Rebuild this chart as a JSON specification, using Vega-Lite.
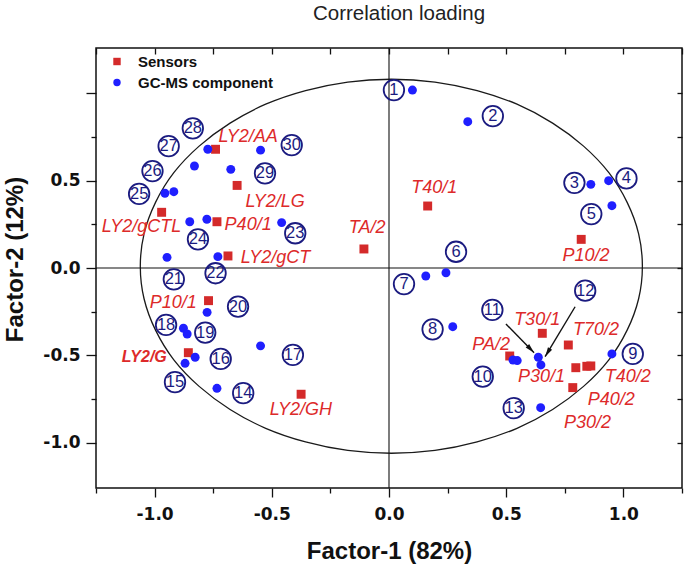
{
  "$schema": "https://vega.github.io/schema/vega-lite/v6.json",
  "width": 586,
  "height": 440,
  "autosize": {"type": "none"},
  "padding": {"left": 96, "top": 48, "right": 6, "bottom": 78},
  "background": "white",
  "title": {"text": "Correlation loading", "font": "Liberation Sans", "fontSize": 20.5, "fontWeight": "normal", "color": "#222", "anchor": "middle", "frame": "group", "baseline": "alphabetic", "offset": 7, "dx": 10},
  "config": {
    "view": {"stroke": "#111", "strokeWidth": 1.5},
    "axis": {"domain": false, "grid": false, "tickColor": "#111", "tickWidth": 1.3, "labelFont": "DejaVu Sans", "labelFontWeight": "bold", "labelFontSize": 17, "labelColor": "#111", "titleFont": "Liberation Sans", "titleFontSize": 24, "titleFontWeight": "bold", "titleColor": "#111"}
  },
  "datasets": {
    "pts": [
      {"type": "Sensors", "name": "LY2/AA", "x": -0.74, "y": 0.68, "lx": -0.601, "ly": 0.752},
      {"type": "Sensors", "name": "LY2/LG", "x": -0.648, "y": 0.473, "lx": -0.486, "ly": 0.38},
      {"type": "Sensors", "name": "LY2/gCTL", "x": -0.97, "y": 0.319, "lx": -1.056, "ly": 0.237},
      {"type": "Sensors", "name": "P40/1", "x": -0.734, "y": 0.265, "lx": -0.601, "ly": 0.246},
      {"type": "Sensors", "name": "LY2/gCT", "x": -0.687, "y": 0.069, "lx": -0.484, "ly": 0.055},
      {"type": "Sensors", "name": "TA/2", "x": -0.107, "y": 0.109, "lx": -0.093, "ly": 0.227},
      {"type": "Sensors", "name": "T40/1", "x": 0.165, "y": 0.355, "lx": 0.193, "ly": 0.456},
      {"type": "Sensors", "name": "P10/2", "x": 0.82, "y": 0.164, "lx": 0.84, "ly": 0.069},
      {"type": "Sensors", "name": "P10/1", "x": -0.77, "y": -0.187, "lx": -0.92, "ly": -0.202},
      {"type": "Sensors", "name": "LY2/G", "x": -0.856, "y": -0.485, "lx": -1.044, "ly": -0.508},
      {"type": "Sensors", "name": "LY2/GH", "x": -0.375, "y": -0.723, "lx": -0.376, "ly": -0.813},
      {"type": "Sensors", "name": "T30/1", "x": 0.654, "y": -0.374, "lx": 0.632, "ly": -0.298},
      {"type": "Sensors", "name": "T70/2", "x": 0.765, "y": -0.441, "lx": 0.883, "ly": -0.355},
      {"type": "Sensors", "name": "PA/2", "x": 0.515, "y": -0.504, "lx": 0.436, "ly": -0.441},
      {"type": "Sensors", "name": "P30/1", "x": 0.797, "y": -0.571, "lx": 0.651, "ly": -0.622},
      {"type": "Sensors", "name": "T40/2", "x": 0.861, "y": -0.561, "lx": 1.019, "ly": -0.626},
      {"type": "Sensors", "name": "P40/2", "x": 0.844, "y": -0.563, "lx": 0.948, "ly": -0.756},
      {"type": "Sensors", "name": "P30/2", "x": 0.784, "y": -0.685, "lx": 0.847, "ly": -0.889},
      {"type": "GC-MS component", "name": "1", "x": 0.1, "y": 1.019, "lx": 0.021, "ly": 1.019},
      {"type": "GC-MS component", "name": "2", "x": 0.336, "y": 0.838, "lx": 0.443, "ly": 0.87},
      {"type": "GC-MS component", "name": "3", "x": 0.861, "y": 0.479, "lx": 0.791, "ly": 0.488},
      {"type": "GC-MS component", "name": "4", "x": 0.937, "y": 0.5, "lx": 1.013, "ly": 0.513},
      {"type": "GC-MS component", "name": "5", "x": 0.951, "y": 0.357, "lx": 0.863, "ly": 0.309},
      {"type": "GC-MS component", "name": "6", "x": 0.243, "y": -0.027, "lx": 0.286, "ly": 0.093},
      {"type": "GC-MS component", "name": "7", "x": 0.157, "y": -0.046, "lx": 0.064, "ly": -0.092},
      {"type": "GC-MS component", "name": "8", "x": 0.272, "y": -0.336, "lx": 0.186, "ly": -0.351},
      {"type": "GC-MS component", "name": "9", "x": 0.951, "y": -0.492, "lx": 1.04, "ly": -0.492},
      {"type": "GC-MS component", "name": "10", "x": 0.529, "y": -0.527, "lx": 0.4, "ly": -0.622},
      {"type": "GC-MS component", "x": 0.547, "y": -0.53},
      {"type": "GC-MS component", "name": "11", "x": 0.637, "y": -0.511, "lx": 0.441, "ly": -0.24},
      {"type": "GC-MS component", "name": "12", "x": 0.648, "y": -0.555, "lx": 0.837, "ly": -0.13},
      {"type": "GC-MS component", "name": "13", "x": 0.647, "y": -0.8, "lx": 0.532, "ly": -0.803},
      {"type": "GC-MS component", "name": "14", "x": -0.734, "y": -0.689, "lx": -0.622, "ly": -0.717},
      {"type": "GC-MS component", "name": "15", "x": -0.87, "y": -0.546, "lx": -0.913, "ly": -0.654},
      {"type": "GC-MS component", "name": "16", "x": -0.827, "y": -0.511, "lx": -0.718, "ly": -0.521},
      {"type": "GC-MS component", "name": "17", "x": -0.548, "y": -0.446, "lx": -0.41, "ly": -0.498},
      {"type": "GC-MS component", "name": "18", "x": -0.877, "y": -0.345, "lx": -0.951, "ly": -0.326},
      {"type": "GC-MS component", "name": "19", "x": -0.861, "y": -0.378, "lx": -0.784, "ly": -0.37},
      {"type": "GC-MS component", "name": "20", "x": -0.776, "y": -0.254, "lx": -0.644, "ly": -0.221},
      {"type": "GC-MS component", "name": "21", "x": -0.947, "y": 0.061, "lx": -0.918, "ly": -0.065},
      {"type": "GC-MS component", "name": "22", "x": -0.73, "y": 0.065, "lx": -0.74, "ly": -0.03},
      {"type": "GC-MS component", "name": "23", "x": -0.458, "y": 0.26, "lx": -0.4, "ly": 0.199},
      {"type": "GC-MS component", "name": "24", "x": -0.85, "y": 0.265, "lx": -0.815, "ly": 0.164},
      {"type": "GC-MS component", "x": -0.777, "y": 0.279},
      {"type": "GC-MS component", "name": "25", "x": -0.956, "y": 0.428, "lx": -1.066, "ly": 0.424},
      {"type": "GC-MS component", "name": "26", "x": -0.918, "y": 0.437, "lx": -1.009, "ly": 0.555},
      {"type": "GC-MS component", "name": "27", "x": -0.83, "y": 0.584, "lx": -0.94, "ly": 0.698},
      {"type": "GC-MS component", "name": "28", "x": -0.773, "y": 0.68, "lx": -0.837, "ly": 0.8},
      {"type": "GC-MS component", "name": "29", "x": -0.675, "y": 0.565, "lx": -0.529, "ly": 0.542},
      {"type": "GC-MS component", "name": "30", "x": -0.548, "y": 0.675, "lx": -0.415, "ly": 0.704}
    ],
    "ellipse": [
      {"i": 0, "x": 1.081, "y": 0.01}, {"i": 1, "x": 1.065, "y": 0.196}, {"i": 2, "x": 1.016, "y": 0.376},
      {"i": 3, "x": 0.938, "y": 0.546}, {"i": 4, "x": 0.83, "y": 0.698}, {"i": 5, "x": 0.698, "y": 0.83},
      {"i": 6, "x": 0.546, "y": 0.938}, {"i": 7, "x": 0.376, "y": 1.016}, {"i": 8, "x": 0.196, "y": 1.065},
      {"i": 9, "x": 0.01, "y": 1.081}, {"i": 10, "x": -0.176, "y": 1.065}, {"i": 11, "x": -0.356, "y": 1.016},
      {"i": 12, "x": -0.526, "y": 0.938}, {"i": 13, "x": -0.678, "y": 0.83}, {"i": 14, "x": -0.81, "y": 0.698},
      {"i": 15, "x": -0.918, "y": 0.546}, {"i": 16, "x": -0.996, "y": 0.376}, {"i": 17, "x": -1.045, "y": 0.196},
      {"i": 18, "x": -1.061, "y": 0.01}, {"i": 19, "x": -1.045, "y": -0.176}, {"i": 20, "x": -0.996, "y": -0.356},
      {"i": 21, "x": -0.918, "y": -0.526}, {"i": 22, "x": -0.81, "y": -0.678}, {"i": 23, "x": -0.678, "y": -0.81},
      {"i": 24, "x": -0.526, "y": -0.918}, {"i": 25, "x": -0.356, "y": -0.996}, {"i": 26, "x": -0.176, "y": -1.045},
      {"i": 27, "x": 0.01, "y": -1.061}, {"i": 28, "x": 0.196, "y": -1.045}, {"i": 29, "x": 0.376, "y": -0.996},
      {"i": 30, "x": 0.546, "y": -0.918}, {"i": 31, "x": 0.698, "y": -0.81}, {"i": 32, "x": 0.83, "y": -0.678},
      {"i": 33, "x": 0.938, "y": -0.526}, {"i": 34, "x": 1.016, "y": -0.356}, {"i": 35, "x": 1.065, "y": -0.176}
    ],
    "arrows": [
      {"id": "a11", "x": 0.499, "y": -0.321, "x2": 0.619, "y2": -0.485},
      {"id": "a12", "x": 0.794, "y": -0.222, "x2": 0.666, "y2": -0.508}
    ]
  },
  "layer": [
    {
      "data": {"name": "ellipse"},
      "mark": {"type": "line", "color": "#1a1a1a", "strokeWidth": 1.3, "interpolate": "cardinal-closed"},
      "encoding": {
        "x": {"field": "x", "type": "quantitative", "scale": {"domain": [-1.25, 1.25], "nice": false, "zero": false},
          "axis": {"orient": "bottom", "title": "Factor-1 (82%)", "values": [-1.25, -1, -0.75, -0.5, -0.25, 0, 0.25, 0.5, 0.75, 1, 1.25],
            "labelExpr": "abs(datum.value) % 0.5 == 0 ? replace(format(datum.value, '.1f'), '\u2212', '-') : ''",
            "tickSize": {"condition": {"test": "abs(datum.value) % 0.5 == 0", "value": 9}, "value": 5},
            "labelPadding": 9, "titleY": 70, "titleBaseline": "alphabetic"}},
        "y": {"field": "y", "type": "quantitative", "scale": {"domain": [-1.26, 1.26], "nice": false, "zero": false},
          "axis": {"orient": "left", "title": "Factor-2 (12%)", "values": [-1, -0.75, -0.5, -0.25, 0, 0.25, 0.5, 0.75, 1],
            "labelExpr": "abs(datum.value) % 0.5 == 0 && datum.value < 0.9 ? replace(format(datum.value, '.1f'), '\u2212', '-') : ''",
            "tickSize": {"condition": {"test": "abs(datum.value) % 0.5 == 0", "value": 10}, "value": 5},
            "labelPadding": 6, "titleX": -74, "titleY": 211, "titleBaseline": "alphabetic"}},
        "order": {"field": "i", "type": "quantitative"}
      }
    },
    {
      "data": {"values": [{"v": 0}]},
      "mark": {"type": "rule", "color": "#111", "strokeWidth": 1.1},
      "encoding": {
        "x": {"field": "v", "type": "quantitative", "axis": {"orient": "top", "title": null, "labels": false, "values": [-1.25, -1, -0.75, -0.5, -0.25, 0, 0.25, 0.5, 0.75, 1, 1.25], "tickSize": -6}}
      }
    },
    {
      "data": {"values": [{"v": 0}]},
      "mark": {"type": "rule", "color": "#111", "strokeWidth": 1.1},
      "encoding": {
        "y": {"field": "v", "type": "quantitative", "axis": {"orient": "right", "title": null, "labels": false, "values": [-1, -0.75, -0.5, -0.25, 0, 0.25, 0.5, 0.75, 1], "tickSize": -5}}
      }
    },
    {
      "data": {"name": "pts"},
      "mark": {"type": "point", "filled": true, "opacity": 1, "size": 80, "strokeWidth": 0},
      "encoding": {
        "x": {"field": "x", "type": "quantitative", "axis": null},
        "y": {"field": "y", "type": "quantitative", "axis": null},
        "color": {"field": "type", "type": "nominal", "scale": {"domain": ["Sensors", "GC-MS component"], "range": ["#d42a2a", "#1f1fff"]},
          "legend": {"orient": "none", "legendX": 13.5, "legendY": 6, "title": null, "padding": 0, "labelFont": "Liberation Sans", "labelFontSize": 15, "labelFontWeight": "bold", "labelColor": "#111", "symbolSize": 55, "labelOffset": 13.5, "rowPadding": 5}},
        "shape": {"field": "type", "type": "nominal", "scale": {"domain": ["Sensors", "GC-MS component"], "range": ["square", "circle"]},
          "legend": {"orient": "none", "legendX": 13.5, "legendY": 6, "title": null, "padding": 0, "labelFont": "Liberation Sans", "labelFontSize": 15, "labelFontWeight": "bold", "labelColor": "#111", "symbolSize": 55, "labelOffset": 13.5, "rowPadding": 5}}
      }
    },
    {
      "data": {"name": "pts"},
      "transform": [{"filter": "datum.type == 'GC-MS component' && isValid(datum.lx)"}],
      "mark": {"type": "point", "shape": "circle", "filled": false, "color": "#1b1b80", "strokeWidth": 1.8, "size": 420, "opacity": 1},
      "encoding": {
        "x": {"field": "lx", "type": "quantitative", "axis": null},
        "y": {"field": "ly", "type": "quantitative", "axis": null}
      }
    },
    {
      "data": {"name": "pts"},
      "transform": [{"filter": "datum.type == 'GC-MS component' && isValid(datum.lx)"}],
      "mark": {"type": "text", "font": "Liberation Sans", "fontSize": 16.5, "color": "#1b1b80", "align": "center", "baseline": "middle"},
      "encoding": {
        "x": {"field": "lx", "type": "quantitative", "axis": null},
        "y": {"field": "ly", "type": "quantitative", "axis": null},
        "text": {"field": "name"}
      }
    },
    {
      "data": {"name": "pts"},
      "transform": [{"filter": "datum.type == 'Sensors' && datum.name != 'LY2/G'"}],
      "mark": {"type": "text", "font": "Liberation Sans", "fontSize": 18, "fontStyle": "italic", "color": "#dd2a2a", "align": "center", "baseline": "middle"},
      "encoding": {
        "x": {"field": "lx", "type": "quantitative", "axis": null},
        "y": {"field": "ly", "type": "quantitative", "axis": null},
        "text": {"field": "name"}
      }
    },
    {
      "data": {"name": "pts"},
      "transform": [{"filter": "datum.name == 'LY2/G'"}],
      "mark": {"type": "text", "font": "Liberation Sans", "fontSize": 16, "fontStyle": "italic", "fontWeight": "bold", "color": "#dd2a2a", "align": "center", "baseline": "middle"},
      "encoding": {
        "x": {"field": "lx", "type": "quantitative", "axis": null},
        "y": {"field": "ly", "type": "quantitative", "axis": null},
        "text": {"field": "name"}
      }
    },
    {
      "data": {"name": "arrows"},
      "mark": {"type": "rule", "color": "#111", "strokeWidth": 1.4},
      "encoding": {
        "x": {"field": "x", "type": "quantitative", "axis": null},
        "y": {"field": "y", "type": "quantitative", "axis": null},
        "x2": {"field": "x2"},
        "y2": {"field": "y2"}
      }
    },
    {
      "data": {"name": "arrows"},
      "transform": [{"filter": "datum.id == 'a11'"}],
      "mark": {"type": "point", "shape": "M0,0L-0.6,2.4L0.6,2.4Z", "filled": true, "color": "#111", "size": 64, "angle": 136, "opacity": 1},
      "encoding": {
        "x": {"field": "x2", "type": "quantitative", "axis": null},
        "y": {"field": "y2", "type": "quantitative", "axis": null}
      }
    },
    {
      "data": {"name": "arrows"},
      "transform": [{"filter": "datum.id == 'a12'"}],
      "mark": {"type": "point", "shape": "M0,0L-0.6,2.4L0.6,2.4Z", "filled": true, "color": "#111", "size": 64, "angle": 211, "opacity": 1},
      "encoding": {
        "x": {"field": "x2", "type": "quantitative", "axis": null},
        "y": {"field": "y2", "type": "quantitative", "axis": null}
      }
    }
  ]
}
